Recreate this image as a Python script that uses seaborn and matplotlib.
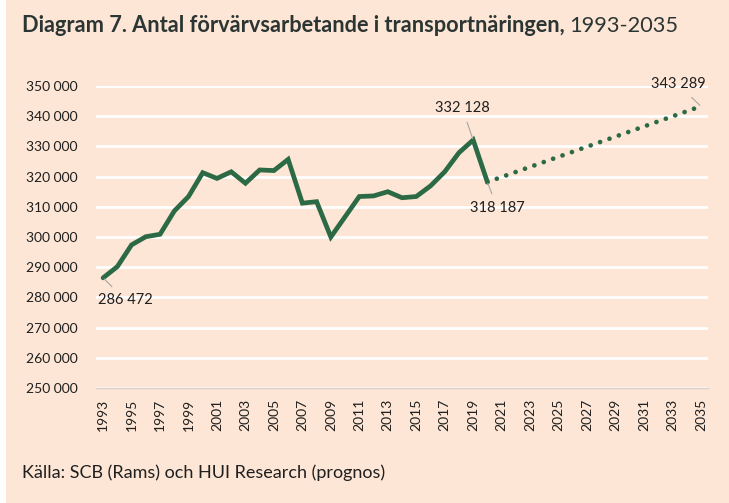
import matplotlib
matplotlib.use('Agg')
import matplotlib.pyplot as plt
from matplotlib.patches import Rectangle
import seaborn as sns
import pandas as pd

# historical (Rams) values
years = list(range(1993, 2021))
employed = [286472, 290200, 297400, 300100, 300900, 308600, 313400, 321300,
            319400, 321600, 317800, 322200, 322000, 325700, 311200, 311700,
            300000, 306700, 313400, 313600, 315000, 313000, 313400, 316900,
            321600, 327900, 332128, 318187]

# forecast (HUI Research), start and end
forecast_years = [2020, 2035]
forecast_values = [318187, 343289]

tick_years = list(range(1993, 2036, 2))
y_ticks = list(range(250000, 350001, 10000))

bg = '#fde6d5'
green = '#2c6a46'
txt = '#1f1f1f'

sns.set_theme(style='white')
plt.rcParams['font.family'] = ['Lato', 'DejaVu Sans']

hist = pd.DataFrame({'year': years, 'value': employed})
prog = pd.DataFrame({'year': forecast_years, 'value': forecast_values})

fig = plt.figure(figsize=(7.29, 5.03), dpi=100, facecolor=bg)
fig.patches.append(Rectangle((0, 0), 6 / 729, 1, transform=fig.transFigure,
                             facecolor='white', edgecolor='none', zorder=0))
ax = fig.add_axes([96 / 729, 1 - 388 / 503, 612 / 729, 302 / 503])
ax.set_facecolor(bg)

sns.lineplot(data=hist, x='year', y='value', ax=ax, color=green, linewidth=3.4,
             solid_joinstyle='miter', zorder=3)
sns.lineplot(data=prog, x='year', y='value', ax=ax, color=green, linewidth=3.4,
             linestyle=(0, (0.01, 2.1)), dash_capstyle='round', zorder=3)

ax.set_xlim(1992.5, 2035.5)
ax.set_ylim(250000, 350000)
ax.set_yticks(y_ticks)
ax.set_yticklabels([f'{v:,}'.replace(',', ' ') for v in y_ticks], fontsize=10, color=txt)
ax.set_xticks(tick_years)
ax.set_xticklabels([str(y) for y in tick_years], rotation=90, fontsize=10, color=txt)
ax.tick_params(axis='both', length=0)
ax.tick_params(axis='x', pad=8)
ax.tick_params(axis='y', pad=13)
ax.set_xlabel('')
ax.set_ylabel('')

ax.grid(axis='y', color='white', linewidth=2)
ax.grid(axis='x', visible=False)
for s in ['top', 'right', 'left']:
    ax.spines[s].set_visible(False)
ax.spines['bottom'].set_color('#d9d0c8')
ax.spines['bottom'].set_linewidth(1)

# point labels with thin leader lines
labels = [(1993, 286472, (22, -22)), (2019, 332128, (-11, 32)),
          (2020, 318187, (10, -26)), (2035, 343289, (-23, 22))]
for x, y, off in labels:
    ax.annotate(f'{y:,}'.replace(',', ' '), xy=(x, y), xytext=off,
                textcoords='offset pixels', ha='center', va='center',
                fontsize=10.5, color=txt,
                arrowprops=dict(arrowstyle='-', color='#a6a6a6', lw=0.8,
                                shrinkA=3, shrinkB=1))

t1 = fig.text(22 / 729, 1 - 32 / 503, 'Diagram 7. Antal förvärvsarbetande i transportnäringen,',
              fontsize=15.7, fontweight='bold', color='#2b3533', va='baseline')
fig.canvas.draw()
bb = t1.get_window_extent(renderer=fig.canvas.get_renderer())
fig.text(bb.x1 / fig.bbox.width + 5 / 729, 1 - 32 / 503, '1993-2035',
         fontsize=15.7, color='#2b3533', va='baseline')

fig.text(22 / 729, 1 - 478 / 503, 'Källa: SCB (Rams) och HUI Research (prognos)',
         fontsize=13, color=txt, va='baseline')

fig.savefig('out.png', dpi=100, facecolor=bg)
